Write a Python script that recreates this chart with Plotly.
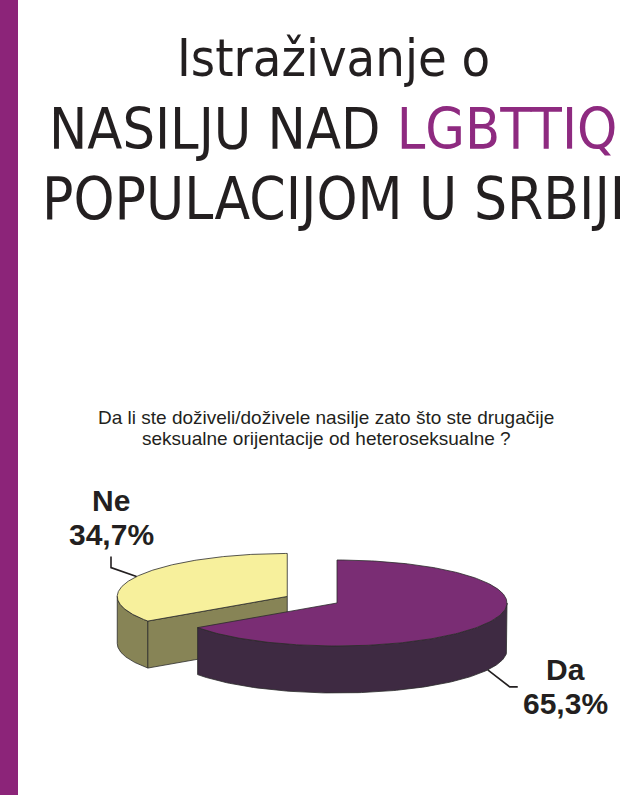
import numpy as np
import plotly.graph_objects as go

# data
labels = ["Da", "Ne"]
values = [65.3, 34.7]
pulled = [0.0, 0.33]
top_colors = ["#7a2d74", "#f7f09c"]
side_colors = ["#3e2a42", "#878456"]

title_lines = [
    "Istraživanje o",
    "NASILJU NAD <span style='color:#8e2a80'>LGBTTIQ</span>",
    "POPULACIJOM U SRBIJI",
]
question_lines = [
    "Da li ste doživeli/doživele nasilje zato što ste drugačije",
    "seksualne orijentacije od heteroseksualne ?",
]

# pie geometry (pixel space of the page)
cx, cy = 337, 603
rx, ry, depth = 170, 43, 47
edge = dict(color="#2b2b2b", width=0.8)
ink = "#231f20"


def rim(x0, y0, ang, drop=0.0):
    a = np.radians(ang)
    return x0 + rx * np.cos(a), y0 - ry * np.sin(a) + drop


fig = go.Figure()

total = sum(values)
slices = []
end = 90.0
for lab, v, p, tc, sc in zip(labels, values, pulled, top_colors, side_colors):
    span = 360.0 * v / total
    a, b = end - span, end  # ccw from a to b
    end = a
    mid = (a + b) / 2
    ox, oy = rim(0, 0, mid)
    x0, y0 = cx + p * ox, cy + p * oy
    slices.append(dict(label=lab, value=v, a=a, b=b, mid=mid, x0=x0, y0=y0, tc=tc, sc=sc))

# back slices first
for s in sorted(slices, key=lambda s: -np.sin(np.radians(s["mid"]))):
    a, b, x0, y0 = s["a"], s["b"], s["x0"], s["y0"]
    a0 = a % 360
    b0 = a0 + (b - a)
    # outer wall, front half only
    for lo, hi in [(180, 360), (540, 720)]:
        s0, s1 = max(a0, lo), min(b0, hi)
        if s1 > s0:
            t = np.linspace(s0, s1, 120)
            xt, yt = rim(x0, y0, t)
            xb, yb = rim(x0, y0, t[::-1], depth)
            fig.add_trace(go.Scatter(
                x=np.r_[xt, xb, xt[:1]], y=np.r_[yt, yb, yt[:1]],
                fill="toself", fillcolor=s["sc"], line=edge, mode="lines",
                hoverinfo="skip", showlegend=False))
    # cut faces facing the viewer
    for ang, normal in [(a, a - 90), (b, b + 90)]:
        if np.sin(np.radians(normal)) < -1e-6:
            ex, ey = rim(x0, y0, ang)
            fig.add_trace(go.Scatter(
                x=[x0, ex, ex, x0, x0], y=[y0, ey, ey + depth, y0 + depth, y0],
                fill="toself", fillcolor=s["sc"], line=edge, mode="lines",
                hoverinfo="skip", showlegend=False))
    # top surface
    t = np.linspace(a, b, 240)
    xt, yt = rim(x0, y0, t)
    fig.add_trace(go.Scatter(
        x=np.r_[x0, xt, x0], y=np.r_[y0, yt, y0],
        fill="toself", fillcolor=s["tc"], line=edge, mode="lines",
        hoverinfo="skip", showlegend=False))

# data labels with leader lines
label_x = {"Da": 565, "Ne": 111}
label_y = {"Da": 669, "Ne": 500}
for s in slices:
    lx, ty = label_x[s["label"]], label_y[s["label"]]
    front = np.sin(np.radians(s["mid"])) < 0
    sx, sy = rim(s["x0"], s["y0"], s["mid"], depth if front else 0)
    if front:
        px = [sx, sx + 22, sx + 30]
        py = [sy, sy + 17, sy + 17]
    else:
        px = [sx, lx, lx]
        py = [sy, sy - 9, sy - 20]
    fig.add_trace(go.Scatter(x=px, y=py, mode="lines",
                             line=dict(color=ink, width=1.6),
                             hoverinfo="skip", showlegend=False))
    pct = f"{s['value']:.1f}".replace(".", ",") + "%"
    for k, txt in enumerate([s["label"], pct]):
        fig.add_annotation(x=lx, y=ty + k * 34, text=f"<b>{txt}</b>",
                           showarrow=False, xanchor="center", yanchor="middle",
                           font=dict(family="Liberation Sans, Arial", size=30, color=ink))

# title
for y, size, txt in zip([58, 129, 199], [52, 57, 58], title_lines):
    fig.add_annotation(x=333, y=y, text=txt, showarrow=False,
                       xanchor="center", yanchor="middle",
                       font=dict(family="DejaVu Sans Condensed, Arial Narrow, sans-serif",
                                 size=size, color=ink))

for y, txt in zip([417, 438], question_lines):
    fig.add_annotation(x=326, y=y, text=txt, showarrow=False,
                       xanchor="center", yanchor="middle",
                       font=dict(family="Liberation Sans, Arial", size=19, color=ink))

# purple band on the left
fig.add_shape(type="rect", xref="paper", yref="paper", x0=0, x1=18 / 640, y0=0, y1=1,
              fillcolor="#8c2479", line_width=0)

fig.update_layout(
    width=640, height=795,
    margin=dict(l=0, r=0, t=0, b=0),
    paper_bgcolor="white", plot_bgcolor="white",
    xaxis=dict(range=[0, 640], visible=False, fixedrange=True),
    yaxis=dict(range=[795, 0], visible=False, fixedrange=True),
)

fig.write_html("out.html", config={"displayModeBar": False},
               post_script="document.body.style.margin='0';")
